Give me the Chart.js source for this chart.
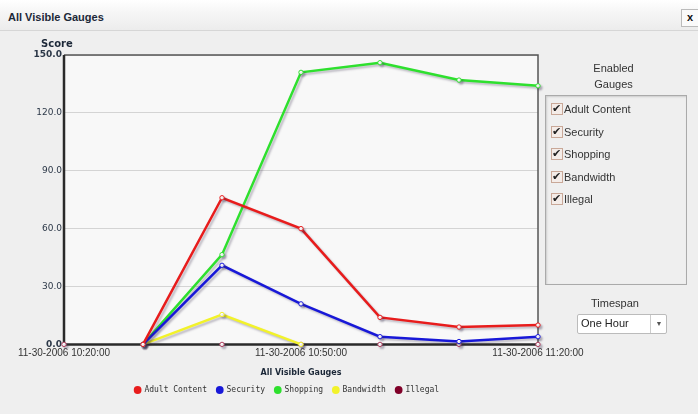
<!DOCTYPE html>
<html>
<head>
<meta charset="utf-8">
<script src="https://cdn.jsdelivr.net/npm/chart.js@4"></script>
<style>
  html, body { margin: 0; padding: 0; }
  body { width: 698px; height: 414px; background: #efefef; position: relative; overflow: hidden; font-family: "Liberation Sans", Arial, sans-serif; }
  #header { position: absolute; left: 0; top: 0; width: 698px; height: 30px; background: linear-gradient(#ffffff, #f6f6f6 40%, #ececec); border-bottom: 1px solid #d6d6d6; }
  #header .title { position: absolute; left: 8px; top: 11px; font: bold 11px "Liberation Sans Narrow", "Liberation Sans", Arial, sans-serif; color: #1c2838; }
  #header .close { position: absolute; left: 681px; top: 9px; width: 16px; height: 16px; border: 1px solid #bbb; background: #fafafa; font: bold 11px Arial, sans-serif; text-align: center; line-height: 15px; color: #111; }
  #score { position: absolute; left: 41px; top: 38px; font: bold 10px "DejaVu Sans", Verdana, sans-serif; color: #1c2838; }
  #chart { position: absolute; left: 0; top: 0; }
  #panel { position: absolute; left: 545px; top: 60px; width: 143px; font: 11px "Liberation Sans", Arial, sans-serif; color: #333; }
  #panel .head { text-align: center; line-height: 16px; margin-left: -6px; }
  #panel .box { position: absolute; left: 0; top: 35px; width: 140px; height: 188px; border: 1px solid #aaa; box-shadow: inset 1px 1px 2px #ccc; }
  #panel .item { position: absolute; left: 5px; height: 14px; line-height: 14px; }
  #panel .cb { display: inline-block; width: 10px; height: 10px; border: 1px solid #c9a898; background: #f4ece8; vertical-align: -2px; margin-right: 1px; position: relative; }
  #panel .cb::after { content: "\2714"; position: absolute; left: 0px; top: -3px; font-size: 11px; color: #222; }
  #timespan { position: absolute; left: 545px; top: 297px; width: 140px; text-align: center; font: 11px "Liberation Sans", Arial, sans-serif; color: #333; }
  #select { position: absolute; left: 577px; top: 314px; width: 88px; height: 18px; border: 1px solid #bbb; background: #fff; font: 11px "Liberation Sans", Arial, sans-serif; color: #222; border-radius: 2px; }
  #select span { position: absolute; left: 3px; top: 2px; }
  #select .arrow { position: absolute; left: 72px; top: 0; width: 16px; height: 18px; border-left: 1px solid #ccc; font-size: 7px; text-align: center; line-height: 18px; color: #555; }
</style>
</head>
<body>
<canvas id="chart" width="698" height="414"></canvas>
<div id="header"><div class="title">All Visible Gauges</div><div class="close">x</div></div>
<div id="score">Score</div>
<div id="panel">
  <div class="head">Enabled<br>Gauges</div>
  <div class="box">
    <div class="item" style="top:6px"><span class="cb"></span>Adult Content</div>
    <div class="item" style="top:29px"><span class="cb"></span>Security</div>
    <div class="item" style="top:51px"><span class="cb"></span>Shopping</div>
    <div class="item" style="top:74px"><span class="cb"></span>Bandwidth</div>
    <div class="item" style="top:96px"><span class="cb"></span>Illegal</div>
  </div>
</div>
<div id="timespan">Timespan</div>
<div id="select"><span>One Hour</span><div class="arrow">&#9660;</div></div>
<script>
// time slots (10 minutes apart), only every third one is labelled
const times = [
  "11-30-2006 10:20:00", "11-30-2006 10:30:00", "11-30-2006 10:40:00",
  "11-30-2006 10:50:00", "11-30-2006 11:00:00", "11-30-2006 11:10:00",
  "11-30-2006 11:20:00",
];
const shownTicks = [0, 3, 6];
const yTicks = [0, 30, 60, 90, 120, 150];

const gaugeNames = ["Adult Content", "Security", "Shopping", "Bandwidth", "Illegal"];
const gaugeColors = ["#e81c1c", "#1818d8", "#2ee02e", "#f2f22a", "#800028"];

// scores
const adultContent = [null, 0, 76, 60, 14, 9, 10];
const security = [null, 0, 41, 21, 4, 1.5, 4];
const shopping = [null, 0, 46.5, 141, 146, 137, 134];
const bandwidth = [null, 0, 15.5, 0, null, null, null];
const illegal = [0, 0, 0, 0, 0, 0, 0];

const seriesValues = [adultContent, security, shopping, bandwidth, illegal];

// plot background + frame
const framePlugin = {
  id: "frame",
  beforeDraw(chart) {
    const { ctx, chartArea: a } = chart;
    ctx.save();
    ctx.fillStyle = "#f8f8f8";
    ctx.fillRect(a.left, a.top, a.right - a.left, a.bottom - a.top);
    ctx.restore();
  },
  beforeDatasetsDraw(chart) {
    const { ctx, chartArea: a } = chart;
    ctx.save();
    ctx.strokeStyle = "#555";
    ctx.lineWidth = 1.5;
    ctx.beginPath();
    ctx.moveTo(a.left, a.top);
    ctx.lineTo(a.right, a.top);
    ctx.lineTo(a.right, a.bottom);
    ctx.stroke();
    ctx.strokeStyle = "#2a2a2a";
    ctx.lineWidth = 2.5;
    ctx.beginPath();
    ctx.moveTo(a.left, a.top);
    ctx.lineTo(a.left, a.bottom);
    ctx.lineTo(a.right, a.bottom);
    ctx.stroke();
    ctx.restore();
  },
};

// legend sits a bit right of the default centre
const legendShift = {
  id: "legendShift",
  afterLayout(chart) {
    const lg = chart.legend;
    lg.left += 18;
    lg.right += 18;
    lg.top -= 4;
    lg.bottom -= 4;
  },
};

// soft grey drop shadow under each line
const shadowPlugin = {
  id: "shadow",
  beforeDatasetDraw(chart) {
    const ctx = chart.ctx;
    ctx.save();
    ctx.shadowColor = "rgba(60, 50, 80, 0.3)";
    ctx.shadowOffsetX = 2;
    ctx.shadowOffsetY = 2;
    ctx.shadowBlur = 2;
  },
  afterDatasetDraw(chart) {
    chart.ctx.restore();
  },
};

const datasets = gaugeNames.map((name, i) => ({
  label: name,
  data: seriesValues[i],
  borderColor: gaugeColors[i],
  backgroundColor: gaugeColors[i],
  borderWidth: 2.5,
  pointRadius: 2.2,
  pointBorderWidth: 1,
  pointBackgroundColor: "#ffffff",
  pointBorderColor: i === 4 ? "#b04060" : gaugeColors[i],
  showLine: i !== 4, // the Illegal line runs on the axis
  tension: 0,
  spanGaps: false,
  clip: false,
}));

new Chart(document.getElementById("chart"), {
  type: "line",
  data: { labels: times, datasets: datasets },
  plugins: [framePlugin, shadowPlugin, legendShift],
  options: {
    responsive: false,
    animation: false,
    events: [],
    layout: {
      padding: { top: 55, left: 0, right: 160, bottom: 6 },
    },
    scales: {
      x: {
        grid: { display: false, drawTicks: false },
        border: { display: false },
        ticks: {
          autoSkip: false,
          maxRotation: 0,
          padding: 3,
          color: "#333",
          font: { family: "'Liberation Sans', Arial, sans-serif", size: 10 },
          callback: (v, i) => (shownTicks.includes(i) ? times[i] : ""),
        },
        title: {
          display: true,
          text: "All Visible Gauges",
          color: "#1c2838",
          font: { family: "'DejaVu Sans', Verdana, sans-serif", size: 8, weight: "bold" },
          padding: { top: 6, bottom: 2 },
        },
      },
      y: {
        min: 0,
        max: 150,
        afterBuildTicks: (scale) => {
          scale.ticks = yTicks.map((v) => ({ value: v }));
        },
        afterFit: (scale) => {
          scale.width = 64;
        },
        grid: { color: "#d4d4d4", drawTicks: false, lineWidth: 1 },
        border: { display: false },
        ticks: {
          padding: 2,
          color: "#2c3848",
          font: (c) => ({
            family: "'DejaVu Sans', Verdana, sans-serif",
            size: 9,
            weight: c.tick && (c.tick.value === 0 || c.tick.value === 150) ? "bold" : "normal",
          }),
          callback: (v) => Number(v).toFixed(1),
        },
      },
    },
    plugins: {
      legend: {
        position: "bottom",
        labels: {
          usePointStyle: true,
          boxHeight: 5.5,
          boxWidth: 5.5,
          padding: 10,
          color: "#333",
          font: { family: "'DejaVu Sans Mono', monospace", size: 8 },
          generateLabels: (chart) =>
            chart.data.datasets.map((d, i) => ({
              text: d.label,
              fillStyle: gaugeColors[i],
              strokeStyle: gaugeColors[i],
              lineWidth: 0,
              pointStyle: "circle",
              datasetIndex: i,
              fontColor: "#333",
            })),
        },
      },
      tooltip: { enabled: false },
    },
  },
});
</script>
</body>
</html>
